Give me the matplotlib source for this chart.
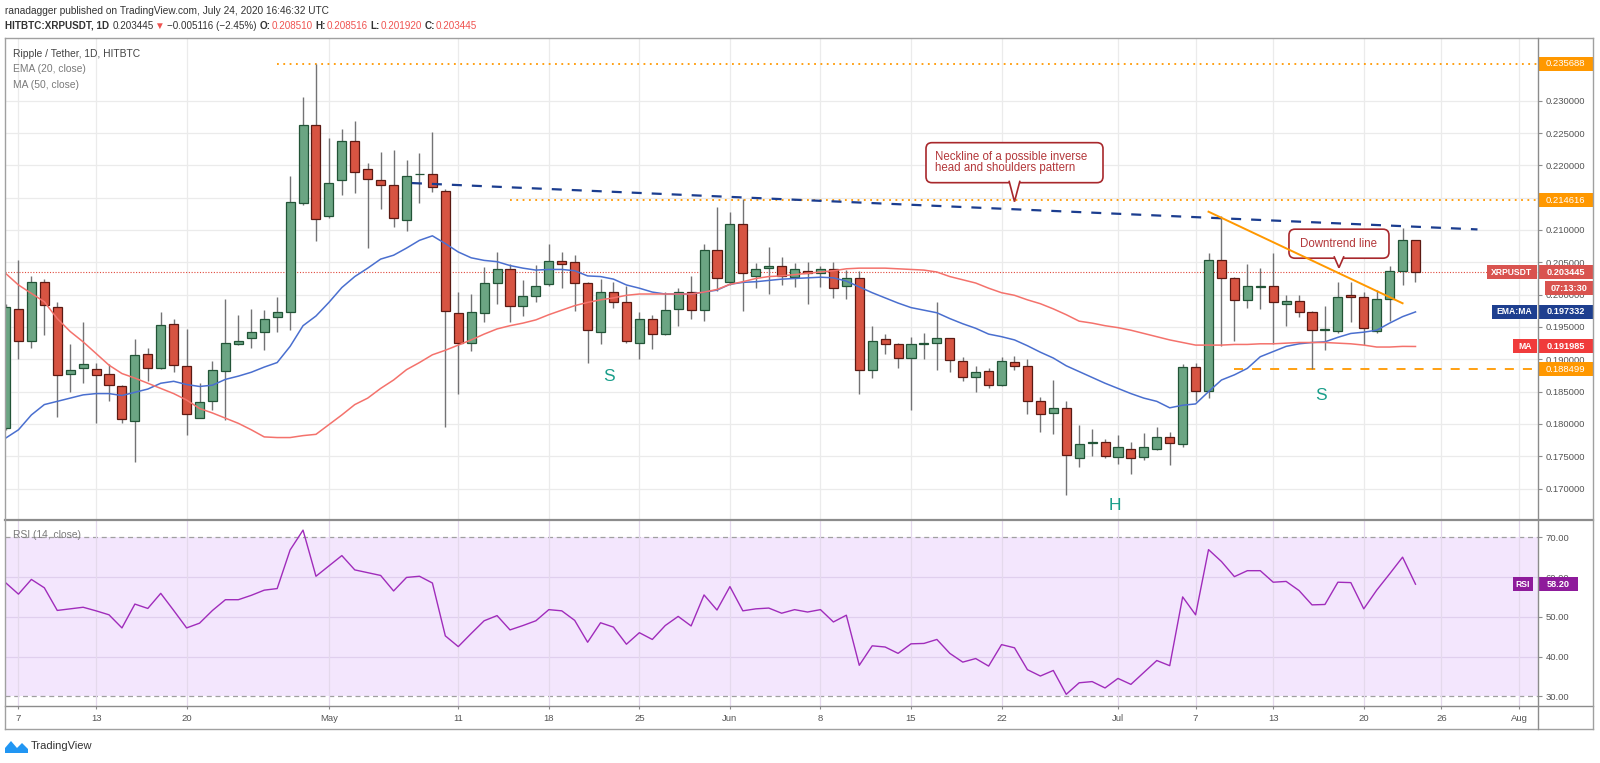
import numpy as np
import pandas as pd
import matplotlib
matplotlib.use('Agg')
import matplotlib.pyplot as plt
from matplotlib.patches import FancyBboxPatch, PathPatch, Rectangle
from matplotlib.path import Path
from matplotlib.lines import Line2D
from matplotlib.transforms import IdentityTransform

plt.rcParams['font.family'] = ['Liberation Sans', 'DejaVu Sans']

# ---- data ----
dates = pd.date_range('2020-04-06', '2020-07-24', freq='D')

opens = [
    0.1794, 0.1978, 0.1928, 0.2019, 0.1981, 0.1878, 0.1886, 0.1885, 0.1878, 0.1859,
    0.1804, 0.1909, 0.1886, 0.1954, 0.1889, 0.1810, 0.1835, 0.1882, 0.1924, 0.1933,
    0.1942, 0.1966, 0.1973, 0.2141, 0.2263,
    0.2121, 0.2177, 0.2238, 0.2194, 0.2178, 0.2169, 0.2115, 0.2186, 0.2187, 0.2161,
    0.1971, 0.1926, 0.1971, 0.2018, 0.2040, 0.1983, 0.1998, 0.2016, 0.2052, 0.2050,
    0.2018, 0.1943, 0.2004, 0.1989, 0.1926, 0.1963, 0.1939, 0.1978, 0.2004, 0.1976,
    0.2069,
    0.2019, 0.2110, 0.2029, 0.2042, 0.2044, 0.2028, 0.2037, 0.2033, 0.2040, 0.2013,
    0.2026, 0.1883, 0.1931, 0.1924, 0.1902, 0.1924, 0.1926, 0.1933, 0.1898, 0.1873,
    0.1882, 0.1860, 0.1896, 0.1890, 0.1835, 0.1817, 0.1824, 0.1747, 0.1771, 0.1772,
    0.1749, 0.1762, 0.1749, 0.1762, 0.1780, 0.1769, 0.1888, 0.1851, 0.2054, 0.2025,
    0.1992, 0.2012, 0.2013, 0.1985, 0.1990, 0.1973, 0.1945, 0.1944, 0.2000, 0.1996,
    0.1944, 0.1993, 0.2036, 0.208510,
]
highs = [
    0.1985, 0.2053, 0.2029, 0.2024, 0.1988, 0.1923, 0.1958, 0.1894, 0.1892, 0.1860,
    0.1931, 0.1917, 0.1973, 0.1963, 0.1947, 0.1863, 0.1897, 0.1994, 0.1969, 0.1978,
    0.1976, 0.1997, 0.2183, 0.2306, 0.235688,
    0.2243, 0.2256, 0.2268, 0.2203, 0.2220, 0.2223, 0.2209, 0.2219, 0.2251, 0.2164,
    0.2004, 0.2001, 0.2043, 0.2066, 0.2047, 0.2023, 0.2046, 0.2079, 0.2066, 0.2061,
    0.2020, 0.2024, 0.2020, 0.2014, 0.1973, 0.1969, 0.2004, 0.2010, 0.2029, 0.2079,
    0.2136,
    0.2128, 0.2148, 0.2049, 0.2073, 0.2059, 0.2049, 0.2051, 0.2045, 0.2050, 0.2038,
    0.2037, 0.1951, 0.1939, 0.1925, 0.1935, 0.1940, 0.1989, 0.1933, 0.1904, 0.1890,
    0.1886, 0.1904, 0.1905, 0.1901, 0.1842, 0.1868, 0.1835, 0.1799, 0.1792, 0.1777,
    0.1783, 0.1772, 0.1786, 0.1796, 0.1787, 0.1892, 0.1895, 0.2064, 0.2121, 0.2028,
    0.2047, 0.2041, 0.2064, 0.2000, 0.2000, 0.1975, 0.1983, 0.2019, 0.2019, 0.2004,
    0.2007, 0.2045, 0.2103, 0.208516,
]
lows = [
    0.1790, 0.1901, 0.1917, 0.1938, 0.1811, 0.1850, 0.1863, 0.1801, 0.1835, 0.1801,
    0.1741, 0.1866, 0.1885, 0.1880, 0.1783, 0.1810, 0.1822, 0.1806, 0.1922, 0.1917,
    0.1914, 0.1942, 0.1945, 0.2138, 0.2083,
    0.2118, 0.2154, 0.2157, 0.2072, 0.2133, 0.2105, 0.2099, 0.2142, 0.2158, 0.1796,
    0.1846, 0.1913, 0.1958, 0.1985, 0.1957, 0.1967, 0.1989, 0.2013, 0.2011, 0.1974,
    0.1894, 0.1923, 0.1980, 0.1926, 0.1901, 0.1916, 0.1938, 0.1951, 0.1963, 0.1960,
    0.2005,
    0.2015, 0.1974, 0.2010, 0.2001, 0.2015, 0.2012, 0.1985, 0.2012, 0.1995, 0.1994,
    0.1847, 0.1871, 0.1909, 0.1886, 0.1822, 0.1901, 0.1884, 0.1881, 0.1866, 0.1849,
    0.1856, 0.1858, 0.1884, 0.1815, 0.1787, 0.1784, 0.1690, 0.1733, 0.1750, 0.1748,
    0.1738, 0.1722, 0.1744, 0.1760, 0.1736, 0.1764, 0.1835, 0.1840, 0.1920, 0.1928,
    0.1980, 0.1978, 0.1923, 0.1951, 0.1965, 0.188499, 0.1914, 0.1940, 0.1958, 0.1922,
    0.1940, 0.1959, 0.2015, 0.201920,
]
closes = [
    0.1981, 0.1928, 0.2019, 0.1984, 0.1876, 0.1883, 0.1892, 0.1876, 0.1861, 0.1807,
    0.1906, 0.1887, 0.1953, 0.1891, 0.1815, 0.1834, 0.1883, 0.1926, 0.1928, 0.1943,
    0.1962, 0.1973, 0.2143, 0.2263, 0.2117,
    0.2173, 0.2237, 0.2190, 0.2179, 0.2169, 0.2119, 0.2183, 0.2187, 0.2166, 0.1974,
    0.1925, 0.1973, 0.2018, 0.2039, 0.1983, 0.1998, 0.2014, 0.2052, 0.2047, 0.2018,
    0.1945, 0.2004, 0.1989, 0.1928, 0.1963, 0.1939, 0.1976, 0.2004, 0.1976, 0.2069,
    0.2025,
    0.2109, 0.2033, 0.2040, 0.2044, 0.2029, 0.2039, 0.2033, 0.2039, 0.2011, 0.2026,
    0.1883, 0.1928, 0.1924, 0.1902, 0.1924, 0.1925, 0.1933, 0.1899, 0.1873, 0.1880,
    0.1860, 0.1897, 0.1889, 0.1836, 0.1815, 0.1824, 0.1752, 0.1769, 0.1772, 0.1751,
    0.1765, 0.1747, 0.1765, 0.1780, 0.1770, 0.1888, 0.1851, 0.2053, 0.2025, 0.1991,
    0.2013, 0.2013, 0.1988, 0.1990, 0.1973, 0.1945, 0.1945, 0.1996, 0.1996, 0.1948,
    0.1993, 0.2036, 0.2085, 0.203445,
]
ema20 = [
    0.1778, 0.1791, 0.1814, 0.1830, 0.1835, 0.1840, 0.1845, 0.1847, 0.1847, 0.1844,
    0.1849, 0.1854, 0.1863, 0.1866, 0.1861, 0.1858, 0.1860, 0.1869, 0.1874, 0.1880,
    0.1888, 0.1895, 0.1920, 0.1952, 0.1967,
    0.1988, 0.2011, 0.2028, 0.2041, 0.2055, 0.2061, 0.2072, 0.2084, 0.2091, 0.2079,
    0.2066, 0.2057, 0.2053, 0.2051, 0.2045, 0.2041, 0.2038, 0.2039, 0.2039, 0.2037,
    0.2029, 0.2028, 0.2024, 0.2015, 0.2010, 0.2004, 0.2001, 0.2001, 0.2001, 0.2004,
    0.2007,
    0.2016, 0.2019, 0.2020, 0.2022, 0.2024, 0.2025, 0.2026, 0.2027, 0.2026, 0.2021,
    0.2012, 0.2003, 0.1995, 0.1987, 0.1980, 0.1976, 0.1972, 0.1963, 0.1955, 0.1948,
    0.1939, 0.1935, 0.1930, 0.1921, 0.1911, 0.1902, 0.1890, 0.1881, 0.1872, 0.1863,
    0.1855, 0.1847, 0.1840, 0.1835, 0.1825, 0.1829, 0.1831, 0.1850, 0.1868, 0.1876,
    0.1886, 0.1904, 0.1912, 0.1920, 0.1924, 0.1926, 0.1927, 0.1934, 0.1940, 0.1942,
    0.1945, 0.1956, 0.1966, 0.197332,
]
ma50 = [
    0.2033, 0.2015, 0.2002, 0.1989, 0.1963, 0.1943, 0.1927, 0.1909, 0.1891, 0.1878,
    0.1871, 0.1863, 0.1855, 0.1847, 0.1837, 0.1824, 0.1817, 0.1809, 0.1801, 0.1791,
    0.1780, 0.1779, 0.1779, 0.1782, 0.1784,
    0.1799, 0.1814, 0.1830, 0.1840, 0.1855, 0.1868, 0.1884, 0.1895, 0.1907, 0.1914,
    0.1922, 0.1930, 0.1939, 0.1947, 0.1952, 0.1956, 0.1961, 0.1969, 0.1976, 0.1983,
    0.1988, 0.1992, 0.1995, 0.1999, 0.2001, 0.2001, 0.2001, 0.2001, 0.2001, 0.2004,
    0.2008,
    0.2016, 0.2020, 0.2025, 0.2028, 0.2029, 0.2031, 0.2033, 0.2035, 0.2037, 0.2040,
    0.2041, 0.2041, 0.2041, 0.2040, 0.2039, 0.2038, 0.2035, 0.2028, 0.2023, 0.2018,
    0.2010, 0.2003, 0.1999, 0.1992, 0.1986, 0.1978, 0.1969, 0.1959, 0.1956, 0.1952,
    0.1949, 0.1945, 0.1940, 0.1935, 0.1930, 0.1926, 0.1922, 0.1922, 0.1922, 0.1923,
    0.1923, 0.1924, 0.1924, 0.1925, 0.1926, 0.1926, 0.1926, 0.1925, 0.1924, 0.1922,
    0.1919, 0.1919, 0.1920, 0.191985,
]
rsi14 = [
    58.6, 55.7, 59.4, 57.3, 51.6, 52.0, 52.4, 51.5, 50.5, 47.2,
    53.2, 52.1, 55.9, 51.6, 47.2, 48.4, 51.6, 54.3, 54.3, 55.4,
    56.7, 57.1, 66.8, 71.8, 60.2,
    62.8, 65.4, 61.8, 61.1, 60.4, 56.5, 59.9, 60.2, 58.5, 45.2,
    42.5, 45.8, 49.0, 50.3, 46.7, 47.8, 49.0, 51.8, 51.5, 49.1,
    43.6, 48.5, 47.4, 43.1, 46.0, 44.3, 47.8, 50.1, 47.7, 55.5,
    51.7,
    57.6, 51.5, 52.0, 52.2, 50.9, 51.8, 51.2, 51.8, 48.7, 50.4,
    37.8, 42.7, 42.4, 40.8, 43.2, 43.3, 44.3, 40.8, 38.6, 39.5,
    37.6, 43.0, 42.2, 36.7, 35.1, 36.5, 30.5, 33.4, 33.7, 32.1,
    34.5, 33.0, 36.0, 39.0, 37.7, 55.0, 50.5, 66.9, 63.9, 60.1,
    61.6, 61.6, 58.7, 58.9, 56.6, 53.0, 53.1, 58.7, 58.6, 52.0,
    56.7, 60.8, 65.0, 58.2,
]

tick_dates = ['2020-04-07', '2020-04-13', '2020-04-20', '2020-05-01', '2020-05-11',
              '2020-05-18', '2020-05-25', '2020-06-01', '2020-06-08', '2020-06-15',
              '2020-06-22', '2020-07-01', '2020-07-07', '2020-07-13', '2020-07-20',
              '2020-07-26', '2020-08-01']
tick_labels = ['7', '13', '20', 'May', '11', '18', '25', 'Jun', '8', '15', '22',
               'Jul', '7', '13', '20', '26', 'Aug']
price_ticks = [0.170, 0.175, 0.180, 0.185, 0.190, 0.195, 0.200,
               0.205, 0.210, 0.215, 0.220, 0.225, 0.230]
rsi_ticks = [30, 40, 50, 60, 70]

level_top = ('2020-04-27', 0.235688)
level_mid = ('2020-05-15', 0.214616)
level_low = ('2020-07-10', 0.188499)
last_close = closes[-1]
neckline_dates = ['2020-05-07 10:00', '2020-07-28 19:00']
neckline_prices = [0.21726, 0.21009]
downtrend_dates = ['2020-07-08', '2020-07-23']
downtrend_prices = [0.21283, 0.19867]
pattern_labels = [('S', '2020-05-22 16:00', 0.18728),
                  ('H', '2020-06-30 18:00', 0.1674),
                  ('S', '2020-07-16 16:00', 0.18444)]

for arr in (opens, highs, lows, closes, ema20, ma50, rsi14):
    assert len(arr) == len(dates)

origin = pd.Timestamp('2020-04-07')


def day(d):
    return (pd.Timestamp(d) - origin) / pd.Timedelta(days=1)


x = np.array([day(d) for d in dates])
o, h, l, c = map(np.array, (opens, highs, lows, closes))
tick_x = [day(d) for d in tick_dates]

# ---- figure / layout ----
W, H = 1600, 763
fig = plt.figure(figsize=(W / 100, H / 100), dpi=100)
fig.patch.set_facecolor('white')

ax = fig.add_axes([5 / W, 1 - 520 / H, 1533 / W, (520 - 37.7) / H])
ax2 = fig.add_axes([5 / W, 1 - 706 / H, 1533 / W, (706 - 520) / H])

grid_c = '#ebebeb'
txt_c = '#555555'
for a in (ax, ax2):
    a.set_xlim(-1.04, 117.47)
    a.set_xticks(tick_x)
    for sp in a.spines.values():
        sp.set_visible(False)
    a.yaxis.tick_right()
    a.tick_params(axis='y', length=3, width=0.8, color='#8c8c8c',
                  labelsize=6.8, labelcolor=txt_c, pad=2.5)

ax.set_ylim(0.16515, 0.23974)
ax.set_yticks(price_ticks)
ax.set_yticklabels([f'{v:.6f}' for v in price_ticks])
ax.grid(True, color=grid_c, lw=0.9)
ax.set_axisbelow(True)
ax.tick_params(axis='x', length=0, labelbottom=False)

ax2.set_ylim(27.56, 74.35)
ax2.set_yticks(rsi_ticks)
ax2.set_yticklabels([f'{v:.2f}' for v in rsi_ticks])
ax2.set_xticklabels(tick_labels)
ax2.tick_params(axis='x', length=2.5, width=0.8, color='#8c8c8c',
                labelsize=6.8, labelcolor=txt_c, pad=3)
ax2.grid(True, axis='x', color='#e4d9ec', lw=0.9)

# ---- candles ----
up = c >= o
ax.vlines(x, l, h, color='#737375', lw=1, zorder=3)
ax.bar(x, np.maximum(np.abs(c - o), 0.00012), width=0.7, bottom=np.minimum(o, c),
       color=np.where(up, '#6ba583', '#d75442'),
       edgecolor=np.where(up, '#225437', '#5b1a13'), linewidth=0.9, zorder=4)

ax.plot(x, ema20, color='#4a6fcf', lw=1.1, zorder=5)
ax.plot(x, ma50, color='#f4726c', lw=1.1, zorder=5)

# ---- level lines ----
xmax = ax.get_xlim()[1]
ax.axhline(last_close, color='#e0493c', lw=0.8, ls=(0, (1, 1.5)), zorder=2)
for d, v in (level_top, level_mid):
    ax.hlines(v, day(d), xmax, color='#ff9800', lw=1.3, ls=(0, (1, 2.5)), zorder=2)
ax.hlines(level_low[1], day(level_low[0]), xmax, color='#ff9800', lw=1.3,
          ls=(0, (5, 5)), zorder=2)
ax.plot([day(d) for d in neckline_dates], neckline_prices, color='#1b3d8f',
        lw=1.6, ls=(0, (4.5, 4.5)), zorder=6)
ax.plot([day(d) for d in downtrend_dates], downtrend_prices, color='#ff9800',
        lw=1.4, zorder=9)

for s, d, v in pattern_labels:
    ax.text(day(d), v, s, color='#1a9e8a', fontsize=12.5, ha='center', va='center',
            zorder=7)

# ---- RSI ----
ax2.axhspan(30, 70, color='#f3e6fd', lw=0, zorder=0)
for v in (40, 50, 60):
    ax2.axhline(v, color='#e0cfee', lw=0.9, zorder=0.5)
for v in (30, 70):
    ax2.axhline(v, color='#a0a0a0', lw=0.9, ls=(0, (4, 3)), zorder=1)
ax2.plot(x, rsi14, color='#a02cbb', lw=1.0, zorder=3)


# ---- callouts ----
def callout(axis, xd, yd, lines, w, h, gap, base, ha='center', text_dx=0, step=11.5):
    tx, ty = axis.transData.transform((day(xd), yd))
    x0, y0 = tx - w / 2, ty + gap
    ec = '#a8282c'
    axis.add_patch(FancyBboxPatch((x0, y0), w, h,
                                  boxstyle='round,pad=0,rounding_size=6',
                                  transform=IdentityTransform(), fc='white',
                                  ec=ec, lw=1.2, zorder=8))
    ptr = Path([(tx - base / 2, y0 + 2), (tx, ty), (tx + base / 2, y0 + 2)],
               [Path.MOVETO, Path.LINETO, Path.LINETO])
    axis.add_patch(PathPatch(ptr, transform=IdentityTransform(), fc='white',
                             ec=ec, lw=1.2, zorder=8.5))
    px = tx + text_dx if ha == 'center' else x0 + text_dx
    mid = y0 + h / 2
    for i, line in enumerate(lines):
        yy = mid + (len(lines) - 1) * step / 2 - i * step
        axis.text(px, yy, line, transform=IdentityTransform(), ha=ha,
                  va='center', color='#b3373a', fontsize=8.3, zorder=8.6)


callout(ax, '2020-06-23', 0.21438,
        ['Neckline of a possible inverse', 'head and shoulders pattern'],
        177, 40, 19, 11, ha='left', text_dx=9.5)
callout(ax, '2020-07-18 02:00', 0.20417, ['Downtrend line'], 100, 29, 9.5, 10)


# ---- axis tags on the right ----
def tag(axis, value, text, fc, x0, w, dy=0, weight='bold', hgt=14, fs=6.6):
    y = axis.transData.transform((0, value))[1] + dy
    fig.add_artist(Rectangle((x0, y - hgt / 2), w, hgt, transform=IdentityTransform(),
                             fc=fc, ec='none', zorder=10))
    fig.text(x0 + w / 2, y, text, transform=IdentityTransform(), ha='center',
             va='center', color='white', fontsize=fs, fontweight=weight, zorder=11)


for v in (level_top[1], level_mid[1], level_low[1]):
    tag(ax, v, f'{v:.6f}', '#ff9800', 1538, 55, weight='normal', fs=6.8)
tag(ax, last_close, f'{last_close:.6f}', '#d9534f', 1538, 55)
tag(ax, last_close, 'XRPUSDT', '#d9534f', 1487, 50, fs=6.2)
tag(ax, last_close, '07:13:30', '#d9534f', 1545, 48, dy=-16)
tag(ax, ema20[-1], f'{ema20[-1]:.6f}', '#1e3f8f', 1538, 55)
tag(ax, ema20[-1], 'EMA:MA', '#1e3f8f', 1492, 45, fs=6.2)
tag(ax, ma50[-1], f'{ma50[-1]:.6f}', '#f03b3b', 1538, 55)
tag(ax, ma50[-1], 'MA', '#f03b3b', 1513, 24, fs=6.2)
tag(ax2, rsi14[-1], f'{rsi14[-1]:.2f}', '#8e1b9b', 1538, 40)
tag(ax2, rsi14[-1], 'RSI', '#8e1b9b', 1513, 20, fs=6.2)


# ---- frame ----
def hline(py, x0=5, x1=1593, color='#a0a0a0', lw=1.0):
    fig.add_artist(Line2D([x0 / W, x1 / W], [1 - py / H] * 2, color=color, lw=lw,
                          transform=fig.transFigure, zorder=12))


def vline(px, y0=37.7, y1=729.3, color='#a0a0a0', lw=1.0):
    fig.add_artist(Line2D([px / W] * 2, [1 - y0 / H, 1 - y1 / H], color=color, lw=lw,
                          transform=fig.transFigure, zorder=12))


hline(37.7)
hline(729.3)
hline(520, color='#8c8c8c', lw=1.6)
hline(706, color='#8c8c8c')
vline(5)
vline(1593)
vline(1538, color='#8c8c8c')

# ---- texts ----
fig.text(5 / W, 1 - 10.7 / H,
         'ranadagger published on TradingView.com, July 24, 2020 16:46:32 UTC',
         fontsize=7.25, color='#333333', va='center')

renderer = fig.canvas.get_renderer()
dark, red = '#333333', '#ef5350'
parts = [('HITBTC:XRPUSDT, 1D', dark, 'bold', 3), ('0.203445', dark, 'normal', 2),
         ('\u25bc', red, 'normal', 2), ('\u22120.005116 (\u22122.45%)', dark, 'normal', 3),
         ('O:', dark, 'bold', 0.5), ('0.208510', red, 'normal', 3),
         ('H:', dark, 'bold', 0.5), ('0.208516', red, 'normal', 3),
         ('L:', dark, 'bold', 0.5), ('0.201920', red, 'normal', 3),
         ('C:', dark, 'bold', 0.5), ('0.203445', red, 'normal', 0)]
cx = 5
for s, col, wt, gap in parts:
    t = fig.text(cx / W, 1 - 25.7 / H, s, fontsize=7.1, color=col, fontweight=wt,
                 va='center', ha='left')
    cx += t.get_window_extent(renderer=renderer).width + gap

fig.text(13 / W, 1 - 54 / H, 'Ripple / Tether, 1D, HITBTC', fontsize=7.4,
         color='#444444', va='center')
fig.text(13 / W, 1 - 69.5 / H, 'EMA (20, close)', fontsize=7.4, color='#7a7a7a',
         va='center')
fig.text(13 / W, 1 - 84.5 / H, 'MA (50, close)', fontsize=7.4, color='#7a7a7a',
         va='center')
fig.text(13 / W, 1 - 535.5 / H, 'RSI (14, close)', fontsize=7.4, color='#7a7a7a',
         va='center')

# TradingView logo (display pixels, origin bottom-left)
logo = Path([(5, 10), (5, 15), (11, 22), (17, 15), (22, 20), (28, 14), (28, 10), (5, 10)],
            [Path.MOVETO] + [Path.LINETO] * 6 + [Path.CLOSEPOLY])
fig.add_artist(PathPatch(logo, transform=IdentityTransform(), fc='#2196f3', ec='none'))
fig.text(31 / W, 1 - 746 / H, 'TradingView', fontsize=8, color='#333333', va='center')

fig.savefig('out.png', dpi=100)
